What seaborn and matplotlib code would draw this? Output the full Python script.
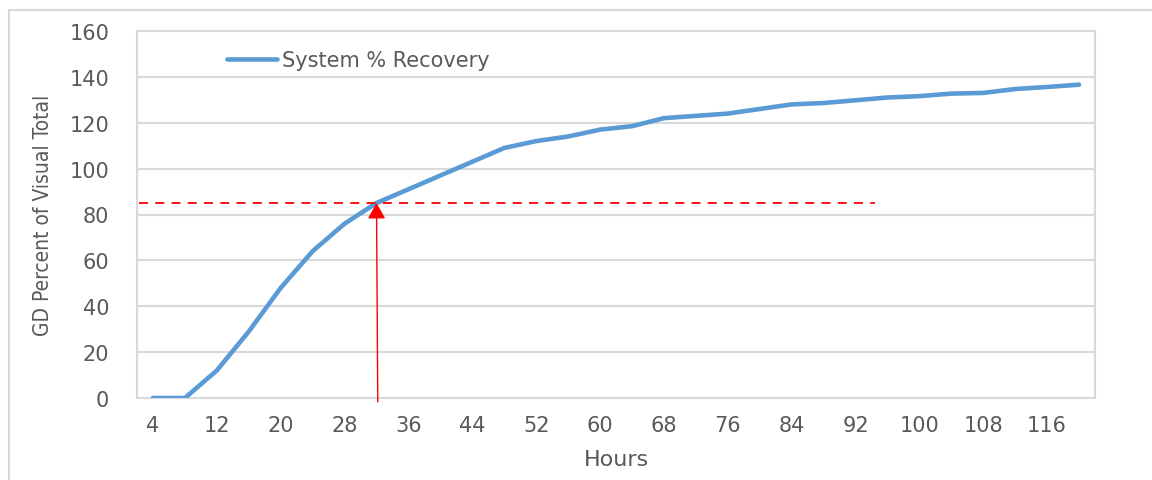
import numpy as np
import pandas as pd
import matplotlib
matplotlib.use("Agg")
import matplotlib.pyplot as plt
from matplotlib.lines import Line2D
import seaborn as sns

hours = [4, 8, 12, 16, 20, 24, 28, 32, 36, 40, 44, 48, 52, 56, 60,
         64, 68, 72, 76, 80, 84, 88, 92, 96, 100, 104, 108, 112, 116, 120]
recovery = [0, 0, 12, 29, 48, 64, 76, 85, 91, 97, 103, 109, 112, 114, 117,
            118.5, 122, 123, 124, 126, 128, 128.6, 129.8, 131, 131.6, 132.7, 133, 134.7, 135.6, 136.6]
series_name = "System % Recovery"
target_value = 85
target_hour = 32
target_end_index = 22.6
y_ticks = [0, 20, 40, 60, 80, 100, 120, 140, 160]

sns.set_theme(style="white")
plt.rcParams['font.family'] = ['DejaVu Sans']

df = pd.DataFrame({"Hours": [str(h) for h in hours], "Recovery": recovery})

fig = plt.figure(figsize=(11.52, 4.81), dpi=100)
ax = fig.add_axes([137/1152, 1 - 399/481, (1095-137)/1152, (399-32)/481])

grid_c = "#D9D9D9"
text_c = "#595959"
blue = "#5B9BD5"

sns.lineplot(data=df, x="Hours", y="Recovery", ax=ax, color=blue, linewidth=3.3,
             label=series_name, sort=False, solid_capstyle="round", zorder=3)

ax.set_xlim(-0.5, len(hours) - 0.5)
ax.set_ylim(0, 160)
ax.set_yticks(y_ticks)
ax.set_yticklabels([str(t) for t in y_ticks])
ax.set_xticks(range(0, len(hours), 2))
ax.set_xticklabels([str(h) for h in hours[::2]])
ax.tick_params(axis="both", length=0, labelsize=15, labelcolor=text_c)
ax.tick_params(axis="y", pad=20)
ax.tick_params(axis="x", pad=12)

ax.yaxis.grid(True, color=grid_c, linewidth=1.5)
ax.set_axisbelow(True)
for s in ax.spines.values():
    s.set_visible(True)
    s.set_color(grid_c)
    s.set_linewidth(1.5)

ax.set_xlabel("Hours", fontsize=16, color=text_c, labelpad=10)
ax.set_ylabel("GD Percent of Visual Total", fontsize=15, color=text_c, labelpad=12,
              fontstretch="condensed")

# target dashed line
ti = hours.index(target_hour)
ax.hlines(target_value, -0.45, target_end_index, colors="red", linestyles=(0, (5, 4)),
          linewidth=1.3, zorder=4)
ax.annotate("", xy=(ti, target_value), xytext=(ti + 0.04, -1.7),
            arrowprops=dict(arrowstyle="-|>,head_length=0.8,head_width=0.45",
                            color="red", lw=1.0, mutation_scale=12, shrinkA=0, shrinkB=0),
            annotation_clip=False, zorder=5)

leg = ax.legend(loc="center left", bbox_to_anchor=((227-137)/958, (399-61)/367),
                frameon=False, fontsize=15, handlelength=2.4, handletextpad=0.25,
                borderpad=0, borderaxespad=0)
for t in leg.get_texts():
    t.set_color(text_c)

# outer chart border
fig.add_artist(Line2D([9/1152, 9/1152], [0, 1 - 11/481], color=grid_c, lw=1.5,
                      transform=fig.transFigure))
fig.add_artist(Line2D([9/1152, 1], [1 - 11/481, 1 - 11/481], color=grid_c, lw=1.5,
                      transform=fig.transFigure))

fig.savefig("out.png", dpi=100)
